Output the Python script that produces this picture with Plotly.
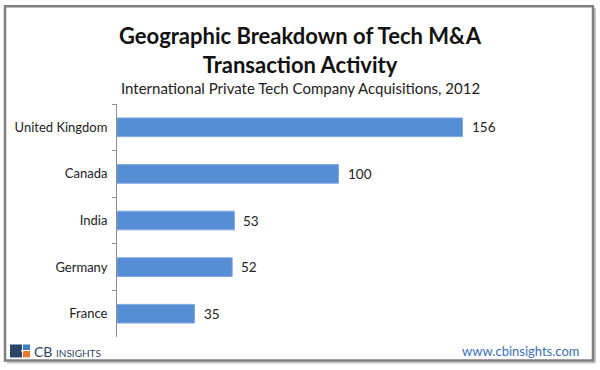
import plotly.graph_objects as go

countries = ["United Kingdom", "Canada", "India", "Germany", "France"]
acquisitions = [156, 100, 53, 52, 35]
title_line1 = "Geographic Breakdown of Tech M&A"
title_line2 = "Transaction Activity"
subtitle = "International Private Tech Company Acquisitions, 2012"
footer_url = "www.cbinsights.com"

W, H = 600, 370
FONT = "Lato, 'Noto Sans', sans-serif"

fig = go.Figure()
fig.add_trace(go.Bar(
    x=acquisitions, y=countries, orientation="h",
    marker=dict(color="#558ED5", line=dict(color="#7EA9E1", width=1)),
    cliponaxis=False,
    hoverinfo="skip",
))

# value labels next to bar ends
for c, v in zip(countries, acquisitions):
    fig.add_annotation(x=v, y=c, xref="x", yref="y", text=str(v), showarrow=False,
                       xanchor="left", yanchor="middle", xshift=7,
                       font=dict(family=FONT, size=13.5, color="#222222"))

L, R, T, B = 117, 40, 104, 32.5
fig.update_layout(
    width=W, height=H,
    margin=dict(l=L, r=R, t=T, b=B),
    paper_bgcolor="white", plot_bgcolor="white",
    bargap=0.6,
    showlegend=False,
    xaxis=dict(range=[0, 200], visible=False, fixedrange=True),
    yaxis=dict(
        categoryorder="array", categoryarray=countries, autorange="reversed",
        showline=True, linecolor="#8C8C8C", linewidth=1,
        ticks="outside", ticklen=4, tickcolor="#8C8C8C", tickson="boundaries",
        ticklabelstandoff=6,
        tickfont=dict(family=FONT, size=13, color="#222222"),
        showgrid=False, zeroline=False, fixedrange=True,
    ),
)

def px(x):
    return (x - L) / (W - L - R)

def py(y):
    return (H - B - y) / (H - T - B)

# outer frame (four sides) with a faint shadow
for (x0, y0, x1, y1) in [(7, 363, 595, 363), (595, 8, 595, 363)]:
    fig.add_shape(type="line", xref="paper", yref="paper",
                  x0=px(x0), x1=px(x1), y0=py(y0), y1=py(y1),
                  line=dict(color="#C8C8C8", width=2), layer="above")
for (x0, y0, x1, y1) in [(4, 6, 594, 6), (4, 361, 594, 361), (5, 5, 5, 362), (593, 5, 593, 362)]:
    fig.add_shape(type="line", xref="paper", yref="paper",
                  x0=px(x0), x1=px(x1), y0=py(y0), y1=py(y1),
                  line=dict(color="#808080", width=2.5), layer="above")

# titles
fig.add_annotation(text="<b>" + title_line1 + "<br>" + title_line2 + "</b>", xref="paper", yref="paper",
                   x=px(300), y=py(50), showarrow=False, align="center",
                   font=dict(family=FONT, size=22, color="#111111"), xanchor="center", yanchor="middle")
fig.add_annotation(text=subtitle, xref="paper", yref="paper",
                   x=px(300), y=py(88), showarrow=False,
                   font=dict(family=FONT, size=15, color="#222222"), xanchor="center", yanchor="middle")

# footer url
fig.add_annotation(text=footer_url, xref="paper", yref="paper",
                   x=px(581), y=py(352), showarrow=False,
                   font=dict(family=FONT, size=13, color="#3A6FB5"), xanchor="right", yanchor="middle")

# logo
def rect(x0, y0, x1, y1, color):
    fig.add_shape(type="rect", xref="paper", yref="paper",
                  x0=px(x0), x1=px(x1), y0=py(y1), y1=py(y0),
                  line=dict(width=0), fillcolor=color)

rect(10, 345, 22, 358, "#2B4566")
rect(23, 345, 30, 350.5, "#3F7EC4")
rect(23, 351.5, 30, 358, "#E8782B")
rect(21, 350.5, 24, 352, "white")
fig.add_annotation(text="CB <span style='font-size:10px'>INSIGHTS</span>", xref="paper", yref="paper",
                   x=px(32), y=py(352), showarrow=False,
                   font=dict(family=FONT, size=14, color="#2B4566"), xanchor="left", yanchor="middle")

fig.write_html("out.html", config={"displayModeBar": False},
               post_script="document.body.style.margin='0';document.body.style.padding='0';")
